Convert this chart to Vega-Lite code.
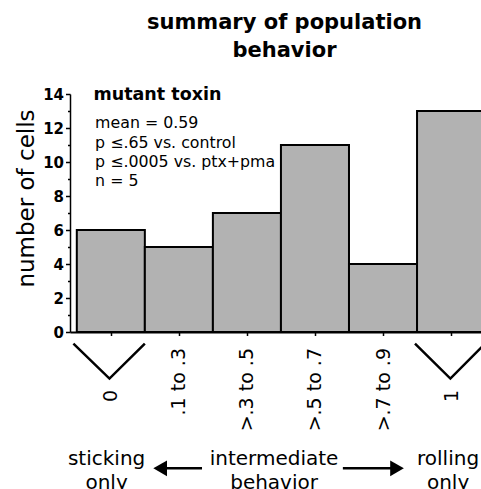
{
  "$schema": "https://vega.github.io/schema/vega-lite/v6.json",
  "autosize": {"type": "none"},
  "width": 411,
  "height": 238,
  "padding": {"left": 70, "top": 94, "right": 0, "bottom": 157},
  "background": "white",
  "config": {"view": {"stroke": null}, "axis": {"labelOverlap": false}},
  "title": {
    "text": ["summary of population", "behavior"],
    "font": "DejaVu Sans",
    "fontSize": 21,
    "fontWeight": "bold",
    "color": "black",
    "anchor": "middle",
    "dx": 9,
    "lineHeight": 28,
    "offset": 25
  },
  "resolve": {"axis": {"y": "independent"}},
  "layer": [
    {
      "data": {"values": [
        {"lo": 0, "hi": 1, "cells": 6, "behavior": "0"},
        {"lo": 1, "hi": 2, "cells": 5, "behavior": ".1 to .3"},
        {"lo": 2, "hi": 3, "cells": 7, "behavior": ">.3 to .5"},
        {"lo": 3, "hi": 4, "cells": 11, "behavior": ">.5 to .7"},
        {"lo": 4, "hi": 5, "cells": 4, "behavior": ">.7 to .9"},
        {"lo": 5, "hi": 6, "cells": 13, "behavior": "1"}
      ]},
      "mark": {"type": "rect", "fill": "#b2b2b2", "stroke": "black", "strokeWidth": 2},
      "encoding": {
        "x": {
          "field": "lo", "type": "quantitative",
          "scale": {"domain": [-0.1, 5.94], "nice": false, "zero": false},
          "axis": {
            "values": [0.5, 1.5, 2.5, 3.5, 4.5, 5.5],
            "labelExpr": "['0', '.1 to .3', '>.3 to .5', '>.5 to .7', '>.7 to .9', '1'][floor(datum.value)]",
            "labelAngle": -90,
            "labelFont": "DejaVu Sans",
            "labelFontSize": 19,
            "labelColor": "black",
            "labelOverlap": false,
            "labelBound": false,
            "labelFlush": false,
            "labelPadding": {"condition": {"test": "datum.value < 1 || datum.value > 5", "value": 54}, "value": 12},
            "tickSize": 3.5,
            "tickWidth": 1.5,
            "tickColor": "black",
            "domainColor": "black",
            "domainWidth": 2,
            "grid": false,
            "title": null
          }
        },
        "x2": {"field": "hi"},
        "y": {
          "field": "cells", "type": "quantitative",
          "scale": {"domain": [0, 14], "nice": false},
          "axis": {
            "orient": "left",
            "values": [0, 1, 2, 3, 4, 5, 6, 7, 8, 9, 10, 11, 12, 13, 14],
            "labelExpr": "datum.value % 2 == 0 ? datum.label : ''",
            "labelOverlap": false,
            "labelBound": false,
            "labelFlush": false,
            "labelFont": "DejaVu Sans",
            "labelFontSize": 15,
            "labelFontWeight": "bold",
            "labelColor": "black",
            "labelPadding": 2,
            "tickSize": {"condition": {"test": "datum.value % 2 == 1", "value": 2.5}, "value": 4.5},
            "tickWidth": 1.5,
            "tickColor": "black",
            "domainColor": "black",
            "domainWidth": 1.5,
            "grid": false,
            "title": "number of cells",
            "titleFont": "DejaVu Sans",
            "titleFontSize": 23,
            "titleFontWeight": "normal",
            "titleColor": "black",
            "titleX": -37,
            "titleY": 104,
            "titleBaseline": "alphabetic"
          }
        },
        "y2": {"datum": 0}
      }
    },
    {
      "data": {"values": [
        {"side": "sticking", "step": 1, "px": -0.05, "py": -0.68},
        {"side": "sticking", "step": 2, "px": 0.48, "py": -2.74},
        {"side": "sticking", "step": 3, "px": 1.0, "py": -0.68},
        {"side": "rolling", "step": 1, "px": 4.97, "py": -0.68},
        {"side": "rolling", "step": 2, "px": 5.49, "py": -2.74},
        {"side": "rolling", "step": 3, "px": 6.0, "py": -0.68}
      ]},
      "mark": {"type": "line", "color": "black", "strokeWidth": 2.5, "clip": false},
      "encoding": {
        "x": {"field": "px", "type": "quantitative"},
        "y": {"field": "py", "type": "quantitative", "axis": null},
        "detail": {"field": "side"},
        "order": {"field": "step"}
      }
    },
    {
      "data": {"values": [{"label": "mutant toxin"}]},
      "mark": {"type": "text", "font": "DejaVu Sans", "fontSize": 17.5, "fontWeight": "bold", "align": "left", "baseline": "alphabetic", "color": "black"},
      "encoding": {
        "x": {"datum": 0.245, "type": "quantitative"},
        "y": {"datum": 13.63, "type": "quantitative", "axis": null},
        "text": {"field": "label"}
      }
    },
    {
      "data": {"values": [{"label": "mean = 0.59\np ≤.65 vs. control\np ≤.0005 vs. ptx+pma\nn = 5"}]},
      "mark": {"type": "text", "font": "DejaVu Sans", "fontSize": 15.8, "align": "left", "baseline": "alphabetic", "lineBreak": "\n", "lineHeight": 19.3, "color": "black"},
      "encoding": {
        "x": {"datum": 0.269, "type": "quantitative"},
        "y": {"datum": 11.98, "type": "quantitative", "axis": null},
        "text": {"field": "label"}
      }
    },
    {
      "data": {"values": [{"label": "sticking\nonly"}]},
      "mark": {"type": "text", "font": "DejaVu Sans", "fontSize": 20, "align": "center", "baseline": "alphabetic", "lineBreak": "\n", "lineHeight": 24, "color": "black"},
      "encoding": {
        "x": {"datum": 0.438, "type": "quantitative"},
        "y": {"datum": -7.84, "type": "quantitative", "axis": null},
        "text": {"field": "label"}
      }
    },
    {
      "data": {"values": [{"label": "intermediate\nbehavior"}]},
      "mark": {"type": "text", "font": "DejaVu Sans", "fontSize": 20, "align": "center", "baseline": "alphabetic", "lineBreak": "\n", "lineHeight": 24, "color": "black"},
      "encoding": {
        "x": {"datum": 2.899, "type": "quantitative"},
        "y": {"datum": -7.84, "type": "quantitative", "axis": null},
        "text": {"field": "label"}
      }
    },
    {
      "data": {"values": [{"label": "rolling\nonly"}]},
      "mark": {"type": "text", "font": "DejaVu Sans", "fontSize": 20, "align": "center", "baseline": "alphabetic", "lineBreak": "\n", "lineHeight": 24, "color": "black"},
      "encoding": {
        "x": {"datum": 5.456, "type": "quantitative"},
        "y": {"datum": -7.84, "type": "quantitative", "axis": null},
        "text": {"field": "label"}
      }
    },
    {
      "data": {"values": [{"arrow": "to sticking"}]},
      "mark": {"type": "rule", "color": "black", "strokeWidth": 2.5},
      "encoding": {
        "x": {"datum": 1.2, "type": "quantitative"},
        "x2": {"datum": 1.84},
        "y": {"datum": -8.02, "type": "quantitative", "axis": null}
      }
    },
    {
      "data": {"values": [{"arrow": "to rolling"}]},
      "mark": {"type": "rule", "color": "black", "strokeWidth": 2.5},
      "encoding": {
        "x": {"datum": 3.91, "type": "quantitative"},
        "x2": {"datum": 4.7},
        "y": {"datum": -8.02, "type": "quantitative", "axis": null}
      }
    },
    {
      "data": {"values": [{"arrow": "to sticking"}]},
      "mark": {"type": "point", "shape": "triangle-left", "filled": true, "color": "black", "opacity": 1, "size": 250},
      "encoding": {
        "x": {"datum": 1.225, "type": "quantitative"},
        "y": {"datum": -8.02, "type": "quantitative", "axis": null}
      }
    },
    {
      "data": {"values": [{"arrow": "to rolling"}]},
      "mark": {"type": "point", "shape": "triangle-right", "filled": true, "color": "black", "opacity": 1, "size": 250},
      "encoding": {
        "x": {"datum": 4.706, "type": "quantitative"},
        "y": {"datum": -8.02, "type": "quantitative", "axis": null}
      }
    }
  ]
}
